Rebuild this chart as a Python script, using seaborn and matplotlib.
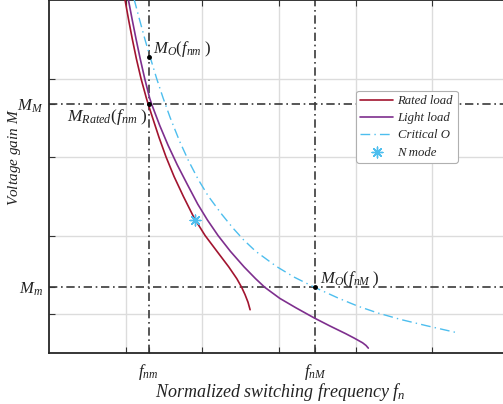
import matplotlib
matplotlib.use("Agg")
import matplotlib.pyplot as plt
from matplotlib.ticker import FixedLocator, NullFormatter
import seaborn as sns
import pandas as pd

# Normalized frequency / gain samples for each curve
rated_fn = [0.967, 0.992, 1.038, 1.087, 1.140, 1.200, 1.270, 1.295, 1.351, 1.435,
            1.527, 1.632, 1.752, 1.880, 1.908, 2.036, 2.190, 2.345, 2.450, 2.513,
            2.556, 2.596, 2.623]
rated_m = [5.137, 5.000, 4.750, 4.500, 4.250, 4.000, 3.750, 3.670, 3.500, 3.250,
           3.000, 2.750, 2.500, 2.250, 2.200, 2.000, 1.800, 1.600, 1.450, 1.340,
           1.250, 1.150, 1.055]

light_fn = [1.008, 1.036, 1.085, 1.136, 1.190, 1.248, 1.313, 1.340, 1.445, 1.553,
            1.673, 1.805, 1.940, 2.065, 2.205, 2.365, 2.545, 2.695, 2.815, 3.010,
            3.220, 3.460, 3.660, 3.870, 3.980, 4.090, 4.135, 4.165]
light_m = [5.137, 5.000, 4.750, 4.500, 4.250, 4.000, 3.750, 3.670, 3.400, 3.150,
           2.900, 2.650, 2.400, 2.200, 2.000, 1.800, 1.600, 1.450, 1.340, 1.200,
           1.080, 0.950, 0.850, 0.750, 0.694, 0.634, 0.600, 0.566]

crit_fn = [1.075, 1.113, 1.181, 1.251, 1.317, 1.404, 1.489, 1.581, 1.704, 1.821,
           1.947, 2.079, 2.256, 2.395, 2.535, 2.695, 2.965, 3.198, 3.467, 3.780,
           4.030, 4.291, 4.590, 4.930, 5.310]
crit_m = [5.137, 5.000, 4.750, 4.500, 4.280, 4.000, 3.750, 3.500, 3.200, 2.950,
          2.713, 2.500, 2.267, 2.100, 1.948, 1.800, 1.607, 1.470, 1.339, 1.200,
          1.100, 1.013, 0.930, 0.850, 0.765]

# Operating point of N mode
n_mode_fn = [1.90]
n_mode_m = [2.20]

# Boundary frequencies and gains
f_nm, f_nM = 1.30, 3.47
M_M, M_m = 3.67, 1.34
M_O_fnm = 4.28

grid_x = [1, 2, 3, 4, 5]
grid_y = [1, 2, 3, 4]

sns.set_theme(style="white")
plt.rcParams["font.family"] = ["Liberation Serif", "DejaVu Serif"]
plt.rcParams["mathtext.fontset"] = "custom"
plt.rcParams["mathtext.it"] = "Liberation Serif:italic"
plt.rcParams["mathtext.rm"] = "Liberation Serif"
plt.rcParams["mathtext.cal"] = "Liberation Serif:italic"

fig = plt.figure(figsize=(5.03, 4.04), dpi=100)
ax = fig.add_axes([49 / 503, 1 - 353.3 / 404, 460 / 503, 353.3 / 404])
ax.set_xlim(0, 6)
ax.set_ylim(0.5, 5)

red = "#a2142f"
purple = "#7e2f8e"
blue = "#4dbeee"
ref_col = "#3a3a3a"

# Reference lines
ref_ls = (0, (5, 2.2, 1, 2.2))
ax.axvline(f_nm, color=ref_col, lw=1.2, ls=ref_ls, zorder=2)
ax.axvline(f_nM, color=ref_col, lw=1.2, ls=ref_ls, zorder=2)
ax.axhline(M_M, color=ref_col, lw=1.2, ls=ref_ls, zorder=2)
ax.axhline(M_m, color=ref_col, lw=1.2, ls=ref_ls, zorder=2)

sns.lineplot(x=rated_fn, y=rated_m, sort=False, estimator=None, color=red,
             lw=1.2, label="Rated load", ax=ax, zorder=3)
sns.lineplot(x=light_fn, y=light_m, sort=False, estimator=None, color=purple,
             lw=1.2, label="Light load", ax=ax, zorder=3)
sns.lineplot(x=crit_fn, y=crit_m, sort=False, estimator=None, color=blue,
             lw=1.0, label="Critical O", ax=ax, zorder=3)
ax.lines[-1].set_linestyle((0, (7, 3, 1, 3)))
sns.scatterplot(x=n_mode_fn, y=n_mode_m, marker=(8, 2, 0), s=60, color=blue,
                linewidth=1.0, edgecolor=blue, label="N mode", ax=ax, zorder=4)

# Key points
pts = pd.DataFrame({"fn": [f_nm, f_nm, f_nM], "m": [M_O_fnm, M_M, M_m]})
ax.plot(pts["fn"], pts["m"], "o", color="black", ms=2.5, zorder=5)

ax.text(1.36, 4.37, r"$M_O(f_{nm}\ )$", fontsize=12, va="center", ha="left", color="#222222")
ax.text(0.23, 3.51, r"$M_{Rated}(f_{nm}\ )$", fontsize=12.5, va="center", ha="left", color="#222222")
ax.text(3.53, 1.44, r"$M_O(f_{nM}\ )$", fontsize=12, va="center", ha="left", color="#222222")

# Ticks: grid on minor ticks, labels on boundary values
ax.xaxis.set_minor_locator(FixedLocator(grid_x))
ax.yaxis.set_minor_locator(FixedLocator(grid_y))
ax.xaxis.set_minor_formatter(NullFormatter())
ax.yaxis.set_minor_formatter(NullFormatter())
ax.set_xticks([f_nm, f_nM])
ax.set_xticklabels([r"$f_{nm}$", r"$f_{nM}$"], fontsize=12)
ax.set_yticks([M_M, M_m])
ax.set_yticklabels([r"$M_M$", r"$M_m$"], fontsize=12)
ax.tick_params(which="major", direction="in", length=4, width=0.8,
               color="#333333", labelcolor="#222222", left=True, bottom=True)
ax.tick_params(axis="y", which="major", pad=4)
ax.tick_params(axis="x", which="major", pad=6)
ax.tick_params(which="minor", direction="in", length=4, width=0.8, color="#333333",
               top=True, right=True, bottom=True, left=True)
ax.grid(False, which="major")
ax.grid(True, which="minor", color="#dcdcdc", lw=1.0)
ax.set_axisbelow(True)

for side in ["left", "bottom", "top", "right"]:
    ax.spines[side].set_color("#262626")
    ax.spines[side].set_linewidth(1.3)

ax.set_xlabel("Normalized switching frequency $f_n$", fontsize=13, fontstyle="italic",
              color="#222222")
ax.set_ylabel("Voltage gain $M$", fontsize=11, fontstyle="italic", color="#222222")
ax.xaxis.set_label_coords(0.502, -0.078)
ax.yaxis.set_label_coords(-0.057, 0.554)

leg = ax.legend(loc="upper left", bbox_to_anchor=((356 - 49) / 460, 1 - 90.7 / 353.3),
                prop={"family": "Liberation Serif", "style": "italic", "size": 9.2},
                frameon=True, fancybox=True, handlelength=2.55, handletextpad=0.35,
                borderpad=0.35, labelspacing=0.4, borderaxespad=0)
leg.get_frame().set_edgecolor("#b0b0b0")
leg.get_frame().set_linewidth(0.8)
leg.get_frame().set_alpha(1)

fig.savefig("out.png", dpi=100)
